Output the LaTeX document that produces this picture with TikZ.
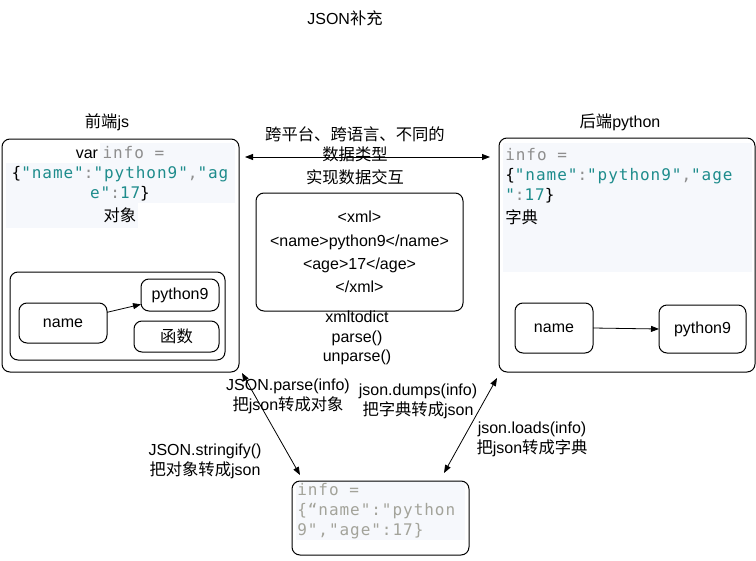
\documentclass[tikz,border=0pt]{standalone}
\usepackage{fontspec}
\setmainfont{Liberation Sans}
\newfontfamily\cjk[Scale=1.02]{Noto Sans CJK SC}
\newfontfamily\code[Scale=1.0,LetterSpace=6]{DejaVu Sans Mono}
\usetikzlibrary{arrows.meta}
\definecolor{codebg}{HTML}{F6F8FC}
\definecolor{codeteal}{HTML}{1E8C8C}
\definecolor{codegray}{HTML}{8E8E8E}
\definecolor{codepale}{HTML}{A3A39A}
\newcommand{\zh}[1]{{\cjk #1}}
\newcommand{\tl}[1]{\textcolor{codeteal}{#1}}
\newcommand{\gr}[1]{\textcolor{codegray}{#1}}

\begin{document}
\begin{tikzpicture}[x=0.75pt, y=-0.75pt, font=\fontsize{12}{15}\selectfont]
			\tikzset{
			    box/.style= {draw, rounded corners=6pt, line width=0.75pt, inner sep=0pt, outer sep=0pt},
			    lbl/.style= {align=center, inner sep=0pt},
			    dbl/.style= {{Triangle[length=6pt,width=4.5pt]}-{Triangle[length=6pt,width=4.5pt]}, line width=0.6pt},
			    arr/.style= {-{Triangle[length=6pt,width=4.5pt]}, line width=0.6pt},
			}
			\useasboundingbox (0,0) rectangle (756,560);
			
			\fill[codebg] (100,143) rectangle (235,163);
			\fill[codebg] (6,163) rectangle (235,203);
			\fill[codebg] (6,203) rectangle (138,228);
			\fill[codebg] (503,143) rectangle (752,272);
			\fill[codebg] (296,481) rectangle (465,540);
			
			\node[lbl] (title) at (345,18) {JSON\zh{补充}};
			\node[lbl] (fehead) at (107,122) {\zh{前端}js};
			\node[lbl] (behead) at (620,122) {\zh{后端}python};
			
			\node[box, minimum width=177.75pt, minimum height=174.75pt] (front) at (120.5,255.5) {};
			\node[box, minimum width=192pt, minimum height=175.5pt] (back) at (627,255) {};
			\node[box, minimum width=155.25pt, minimum height=88.5pt] (xml) at (359.5,252) {};
			\node[box, minimum width=132.75pt, minimum height=55.5pt] (json) at (380.5,518) {};
			\node[box, minimum width=161.25pt, minimum height=66pt] (obj) at (117.5,316) {};
			
			\node[box, minimum width=66pt, minimum height=30pt] (lname) at (63,323) {name};
			\node[box, minimum width=58.5pt, minimum height=24pt] (lpy) at (180,295) {python9};
			\node[box, minimum width=63.75pt, minimum height=23.25pt] (lfunc) at (176.5,336.5) {\zh{函数}};
			\node[box, minimum width=58.5pt, minimum height=37.5pt] (rname) at (554,328) {name};
			\node[box, minimum width=65.25pt, minimum height=36pt] (rpy) at (702.5,329) {python9};
			
			\node[lbl, anchor=north] (jscode) at (120,146) {var {\code\gr{info =}}\\
			    {\code\{\tl{"name"}\gr{:}\tl{"python9"}\gr{,}\tl{"ag}}\\
			    {\code\tl{e"}\gr{:}\tl{17}\}}\\[2pt]
			    \zh{对象}};
			\node[lbl, anchor=north west, align=left] (pycode) at (505,148) {{\code\gr{info =}}\\
			    {\code\{\tl{"name"}\gr{:}\tl{"python9"}\gr{,}\tl{"age}}\\
			    {\code\tl{"}\gr{:}\tl{17}\}}\\[2pt]
			    \zh{字典}};
			\node[lbl, anchor=north west, align=left, color=codepale] (jsoncode) at (297,483) {{\code info =}\\
			    {\code\{“name":"python}\\
			    {\code 9","age":17\}}};
			
			\node[lbl, font=\fontsize{12}{17.5}\selectfont] (xmltext) at (xml.center) {<xml>\\<name>python9</name>\\<age>17</age>\\</xml>};
			\node[lbl, font=\fontsize{12}{14.6}\selectfont] (xmlfun) at (357,338) {xmltodict\\parse()\\unparse()};
			
			\coordinate (hl) at (245,157);
			\coordinate (hr) at (490,157);
			\draw[dbl] (hl) -- (hr);
			\node[lbl] (cross) at (355,144) {\zh{跨平台、跨语言、不同的}\\\zh{数据类型}};
			\node[lbl] (swap) at (355,177) {\zh{实现数据交互}};
			
			\draw[arr] ([yshift=8pt]lname.east) -- ([yshift=-7pt]lpy.west);
			\draw[arr] (rname.east) -- (rpy.west);
			
			\coordinate (d1) at (242,373);
			\coordinate (d2) at (300,475);
			\coordinate (d3) at (497,378);
			\coordinate (d4) at (444,473);
			\draw[dbl] (d1) -- (d2);
			\draw[dbl] (d3) -- (d4);
			
			\node[lbl] (parse) at (288,396.5) {JSON.parse(info)\\\zh{把}json\zh{转成对象}};
			\node[lbl] (dumps) at (418,401) {json.dumps(info)\\\zh{把字典转成}json};
			\node[lbl] (loads) at (532,439) {json.loads(info)\\\zh{把}json\zh{转成字典}};
			\node[lbl] (stringify) at (205,461.5) {JSON.stringify()\\\zh{把对象转成}json};
		\end{tikzpicture}
\end{document}
